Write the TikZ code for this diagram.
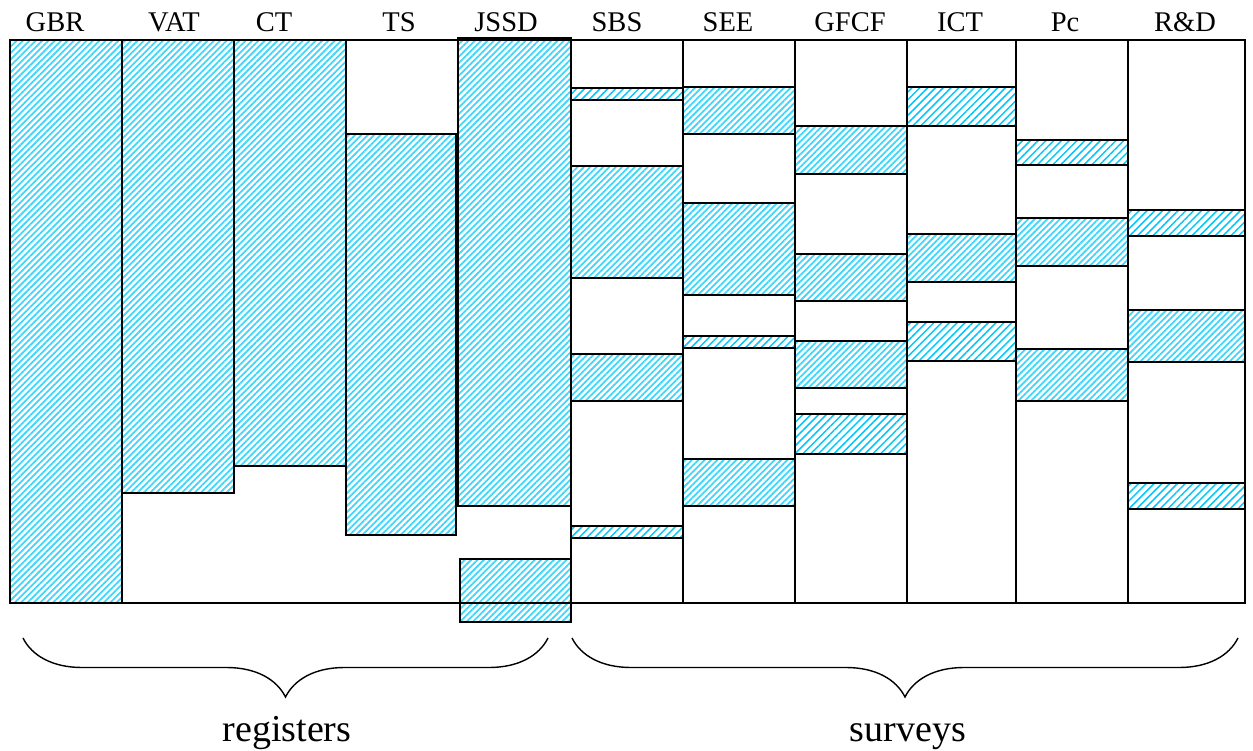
\documentclass[tikz,border=0pt]{standalone}
\usepackage{fontspec}
\setmainfont{Liberation Serif}
\usetikzlibrary{patterns.meta,decorations.pathreplacing,positioning}
\definecolor{hatchcyan}{RGB}{0,200,250}
\tikzset{
    hatched/.style={draw, line width=2pt, pattern={Lines[angle=45,distance=4.5pt,line width=1.8pt]}, pattern color=hatchcyan!75},
    densehatch/.style={draw, line width=2pt, pattern={Lines[angle=45,distance=5.5pt,line width=1.5pt]}, pattern color=hatchcyan},
    colbox/.style={draw, line width=2pt},
    head/.style={font=\fontsize{28.5}{30}\selectfont, anchor=base, inner sep=0pt},
    group/.style={font=\fontsize{38}{40}\selectfont, anchor=base, inner sep=0pt},
    bracket/.style={decorate, decoration={brace, mirror, amplitude=59pt}, line width=1.4pt}
}

\begin{document}
\begin{tikzpicture}[x=1pt, y=-1pt]
\useasboundingbox (0,0) rectangle (1253,751);

% column headings
\node[head] (gbr) at (55,32) {GBR};
\node[head] (vat) at (174,32) {VAT};
\node[head] (ct) at (274,32) {CT};
\node[head] (ts) at (399,32) {TS};
\node[head] (jssd) at (506,32) {JSSD};
\node[head] (sbs) at (617,32) {SBS};
\node[head] (see) at (728,32) {SEE};
\node[head] (gfcf) at (850,32) {GFCF};
\node[head] (ict) at (960,32) {ICT};
\node[head] (pc) at (1065,32) {Pc};
\node[head] (rd) at (1185,32) {R\&D};

% survey columns
\draw[colbox] (571,40) rectangle (683,603);
\draw[colbox] (683,40) rectangle (795,603);
\draw[colbox] (795,40) rectangle (907,603);
\draw[colbox] (907,40) rectangle (1016,603);
\draw[colbox] (1016,40) rectangle (1128,603);
\draw[colbox] (1128,40) rectangle (1245,603);

% registers
\draw[hatched] (10,40) rectangle (122,603);
\draw[hatched] (122,40) rectangle (234,493);
\draw[hatched] (234,40) rectangle (346,466);
\draw[hatched] (346,134) rectangle (456,535);
\draw[hatched] (458,38) rectangle (571,506);
\draw[hatched] (460,559) rectangle (571,622);

% SBS
\draw[densehatch] (571,88) rectangle (683,100);
\draw[hatched] (571,166) rectangle (683,278);
\draw[hatched] (571,354) rectangle (683,401);
\draw[densehatch] (571,526) rectangle (683,538);

% SEE
\draw[hatched] (683,87) rectangle (795,134);
\draw[hatched] (683,203) rectangle (795,295);
\draw[densehatch] (683,336) rectangle (795,348);
\draw[hatched] (683,459) rectangle (795,506);

% GFCF
\draw[hatched] (795,126) rectangle (907,174);
\draw[hatched] (795,254) rectangle (907,301);
\draw[hatched] (795,341) rectangle (907,388);
\draw[densehatch] (795,414) rectangle (907,454);

% ICT
\draw[densehatch] (907,87) rectangle (1016,126);
\draw[hatched] (907,234) rectangle (1016,282);
\draw[densehatch] (907,322) rectangle (1016,361);

% Pc
\draw[densehatch] (1016,140) rectangle (1128,165);
\draw[hatched] (1016,218) rectangle (1128,266);
\draw[hatched] (1016,349) rectangle (1128,401);

% R&D
\draw[densehatch] (1128,210) rectangle (1245,236);
\draw[hatched] (1128,310) rectangle (1245,362);
\draw[densehatch] (1128,483) rectangle (1245,509);

% outer frame
\draw[colbox] (10,40) rectangle (1245,603);

% braces
\coordinate (regL) at (23,638);
\coordinate (regR) at (548,638);
\coordinate (surL) at (572,638);
\coordinate (surR) at (1238,638);
\draw[bracket] (regL) -- (regR);
\draw[bracket] (surL) -- (surR);
\node[group] (registers) at (287,741) {registers};
\node[group] (surveys) at (908,741) {surveys};
\end{tikzpicture}
\end{document}
